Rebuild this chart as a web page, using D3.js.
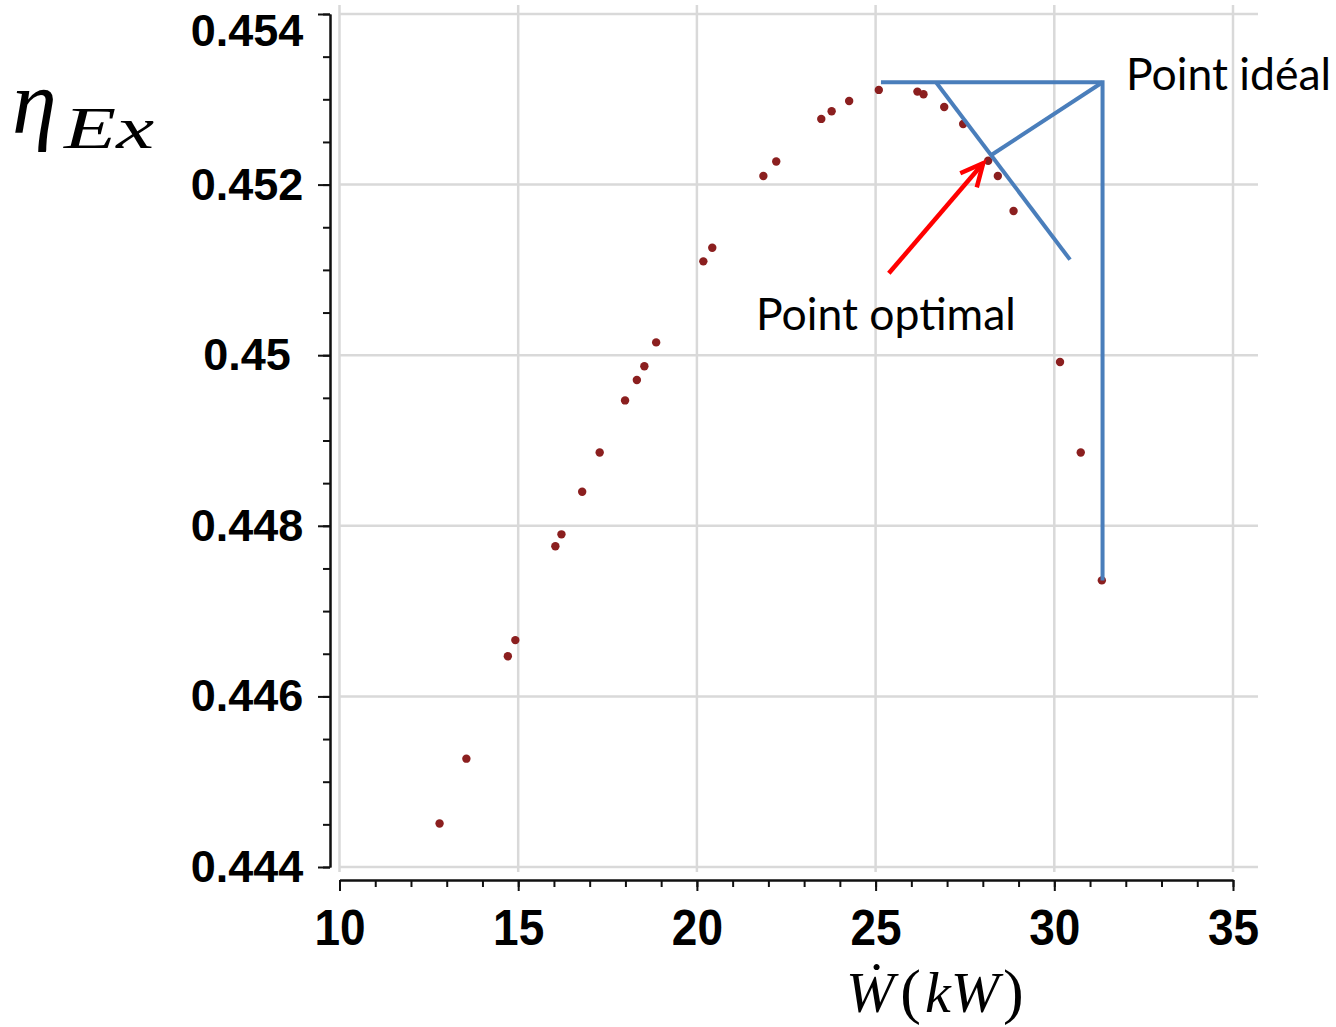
<!DOCTYPE html>
<html>
<head>
<meta charset="utf-8">
<script src="https://cdn.jsdelivr.net/npm/d3@7"></script>
<style>
	body { margin: 0; background: #fff; }
	.tick-label { font-family: "Liberation Sans", Arial, sans-serif; font-weight: bold; fill: #000; }
	.math { font-family: "Liberation Serif", serif; font-style: italic; fill: #000; }
	.note { font-family: Lato, "Open Sans", sans-serif; font-size: 44.5px; fill: #000; }
</style>
</head>
<body>
<svg id="chart" width="1336" height="1027"></svg>
<script>
// power output (kW) vs exergy efficiency
const powerKW = [12.80, 13.55, 14.71, 14.92, 16.04, 16.21, 16.79, 17.28, 17.99, 18.32,
	18.53, 18.86, 20.18, 20.43, 21.86, 22.22, 23.48, 23.77, 24.26, 25.09,
	26.17, 26.34, 26.92, 27.45, 28.15, 28.42, 28.86, 30.16, 30.74, 31.33];
const exergyEff = [0.44451, 0.44527, 0.44647, 0.44666, 0.44776, 0.44790, 0.44840, 0.44886, 0.44947, 0.44971,
	0.44987, 0.45015, 0.45110, 0.45126, 0.45210, 0.45227, 0.45277, 0.45286, 0.45298, 0.45311,
	0.45309, 0.45306, 0.45291, 0.45271, 0.45228, 0.45210, 0.45169, 0.44992, 0.44886, 0.44736];

const xTicks = [10, 15, 20, 25, 30, 35];
const xTickLabels = ["10", "15", "20", "25", "30", "35"];
const xMinorTicks = d3.range(10, 35.5, 1);
const yTicks = [0.444, 0.446, 0.448, 0.45, 0.452, 0.454];
const yTickLabels = ["0.444", "0.446", "0.448", "0.45", "0.452", "0.454"];
const yMinorTicks = d3.range(0, 21).map(i => 0.444 + i * 0.0005);

// annotation geometry (data coordinates)
const idealPoint = [31.35, 0.45320];
const frontStart = [25.15, 0.45320];
const tangentLine = [[26.69, 0.45320], [30.44, 0.45112]];
const idealToOptimal = [[31.35, 0.45320], [28.25, 0.45235]];
const optimalArrow = [[25.37, 0.45096], [28.01, 0.45225]];

const svg = d3.select("#chart");
const x = d3.scaleLinear().domain([10, 35]).range([339.5, 1233]);
const y = d3.scaleLinear().domain([0.444, 0.454]).range([867, 14]);
const axisY = 880;
const axisX = 330;

// grid
const grid = svg.append("g").attr("stroke", "#d9d9d9").attr("stroke-width", 2.5);
grid.selectAll("line.v")
	.data(xTicks)
	.enter()
	.append("line")
	.attr("class", "v")
	.attr("x1", d => x(d)).attr("x2", d => x(d))
	.attr("y1", y.range()[1] - 9).attr("y2", y.range()[0] + 5);
grid.selectAll("line.h")
	.data(yTicks)
	.enter()
	.append("line")
	.attr("class", "h")
	.attr("x1", x(10)).attr("x2", x.range()[1] + 25)
	.attr("y1", d => y(d)).attr("y2", d => y(d));

// x axis
const xMinor = svg.append("g")
	.attr("transform", `translate(0,${axisY})`)
	.call(d3.axisBottom(x).tickValues(xMinorTicks).tickSize(7).tickSizeOuter(0).tickFormat(""));
const xMajor = svg.append("g")
	.attr("transform", `translate(0,${axisY})`)
	.call(d3.axisBottom(x).tickValues(xTicks).tickSize(11).tickSizeOuter(0).tickPadding(19)
		.tickFormat((d, i) => xTickLabels[i]));

// y axis
const yMinor = svg.append("g")
	.attr("transform", `translate(${axisX},0)`)
	.call(d3.axisLeft(y).tickValues(yMinorTicks).tickSize(7).tickSizeOuter(0).tickFormat(""));
const yMajor = svg.append("g")
	.attr("transform", `translate(${axisX},0)`)
	.call(d3.axisLeft(y).tickValues(yTicks).tickSize(12).tickSizeOuter(0)
		.tickFormat((d, i) => yTickLabels[i]));

[xMinor, xMajor, yMinor, yMajor].forEach(g => {
	g.selectAll("path, line").attr("stroke", "#111").attr("stroke-width", 2);
	g.selectAll("text").attr("class", "tick-label").attr("font-size", null).attr("font-family", null);
});
xMajor.selectAll("text")
	.style("font-size", "50px")
	.attr("transform", "scale(0.92,1)");
// labels sit centred in the left margin; the top one is pushed down inside the frame
yMajor.selectAll("text")
	.style("font-size", "45px")
	.attr("text-anchor", "middle")
	.attr("x", 247 - axisX)
	.filter(d => d === 0.454).attr("y", 17);

// points
svg.append("g")
	.selectAll("circle")
	.data(powerKW)
	.enter()
	.append("circle")
	.attr("cx", d => x(d))
	.attr("cy", (d, i) => y(exergyEff[i]))
	.attr("r", 4.2)
	.attr("fill", "#8b1f1f");

// annotations
const blue = svg.append("g")
	.attr("stroke", "#4a7ebb")
	.attr("stroke-width", 4)
	.attr("fill", "none");
blue.append("path")
	.attr("d", d3.line()([
		[x(frontStart[0]), y(frontStart[1])],
		[x(idealPoint[0]), y(idealPoint[1])],
		[x(idealPoint[0]), y(exergyEff[exergyEff.length - 1])]
	]));
blue.append("line")
	.attr("x1", x(tangentLine[0][0])).attr("y1", y(tangentLine[0][1]))
	.attr("x2", x(tangentLine[1][0])).attr("y2", y(tangentLine[1][1]));
blue.append("line")
	.attr("x1", x(idealToOptimal[0][0])).attr("y1", y(idealToOptimal[0][1]))
	.attr("x2", x(idealToOptimal[1][0])).attr("y2", y(idealToOptimal[1][1]));

const a0 = [x(optimalArrow[0][0]), y(optimalArrow[0][1])];
const a1 = [x(optimalArrow[1][0]), y(optimalArrow[1][1])];
const back = Math.atan2(a0[1] - a1[1], a0[0] - a1[0]);
const head = 25, spread = 0.45;
const arrow = svg.append("g")
	.attr("stroke", "#ff0000")
	.attr("stroke-width", 4.5)
	.attr("fill", "none");
arrow.append("line")
	.attr("x1", a0[0]).attr("y1", a0[1])
	.attr("x2", a1[0]).attr("y2", a1[1]);
arrow.append("path")
	.attr("stroke-linejoin", "miter")
	.attr("d", d3.line()([
		[a1[0] + head * Math.cos(back + spread), a1[1] + head * Math.sin(back + spread)],
		a1,
		[a1[0] + head * Math.cos(back - spread), a1[1] + head * Math.sin(back - spread)]
	]));

svg.append("text")
	.attr("class", "note")
	.attr("x", 1126).attr("y", 90)
	.text("Point idéal");
svg.append("text")
	.attr("class", "note")
	.attr("x", 756).attr("y", 330)
	.text("Point optimal");

// axis titles
const yTitle = svg.append("text").attr("class", "math");
yTitle.append("tspan").attr("x", 12).attr("y", 133).attr("font-size", 90).text("η");
yTitle.append("tspan").attr("x", 64).attr("y", 148).attr("font-size", 60)
	.attr("textLength", 90).attr("lengthAdjust", "spacingAndGlyphs").text("Ex");

const xTitle = svg.append("text").attr("class", "math").attr("font-size", 58)
	.attr("x", 846).attr("y", 1012);
xTitle.append("tspan").text("Ẇ");
xTitle.append("tspan").attr("dx", 6).attr("font-style", "normal").attr("font-size", 62).text("(");
xTitle.append("tspan").attr("dx", 4).text("kW");
xTitle.append("tspan").attr("dx", 4).attr("font-style", "normal").attr("font-size", 62).text(")");
</script>
</body>
</html>
